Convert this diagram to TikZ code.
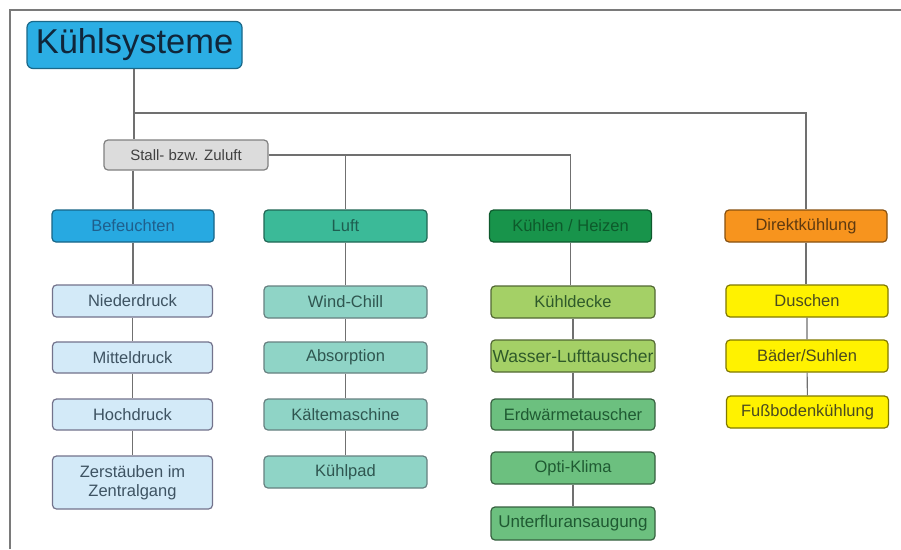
\documentclass[tikz,border=0pt]{standalone}
\usepackage{fontspec}
\setmainfont{Liberation Sans}
\definecolor{linec}{HTML}{707070}
\definecolor{framec}{HTML}{7A7A7A}
\definecolor{titlef}{HTML}{2BAEE4}
\definecolor{titlet}{HTML}{10263A}
\definecolor{stallf}{HTML}{DCDCDC}
\definecolor{beff}{HTML}{27A9E1}
\definecolor{beft}{HTML}{1F5F8C}
\definecolor{lblue}{HTML}{D3EAF8}
\definecolor{lbluet}{HTML}{3E5362}
\definecolor{luftf}{HTML}{3BBA98}
\definecolor{luftt}{HTML}{1E5E50}
\definecolor{tealf}{HTML}{8FD4C6}
\definecolor{tealt}{HTML}{2F5650}
\definecolor{khf}{HTML}{18944B}
\definecolor{kht}{HTML}{0D5A2B}
\definecolor{lgreen}{HTML}{A4D066}
\definecolor{lgreent}{HTML}{2F5A2A}
\definecolor{mgreen}{HTML}{6CC07F}
\definecolor{mgreent}{HTML}{1F5A32}
\definecolor{dirf}{HTML}{F7941E}
\definecolor{dirt}{HTML}{5E3A10}
\definecolor{yel}{HTML}{FFF200}
\definecolor{yelt}{HTML}{4A4A20}
\tikzset{
  box/.style={rectangle, rounded corners=4pt, draw=#1, line width=1.2pt, inner sep=1pt, align=center,
    font=\fontsize{16.5}{18.5}\selectfont, anchor=center},
  conn/.style={draw=linec, line width=1.1pt},
}
\begin{document}
\begin{tikzpicture}[x=1pt,y=-1pt]
\useasboundingbox (0,0) rectangle (901,549);
\fill[white] (0,0) rectangle (901,549);
% frame
\draw[framec, line width=1.3pt] (10,549) -- (10,10) -- (901,10);
% title
\node[box=titlef!60!black, fill=titlef, text=titlet, minimum width=215pt, minimum height=47pt, font=\fontsize{34.5}{38}\selectfont, rounded corners=6pt] (title) at (134.5,45) {Kühlsysteme};
\node[box=gray, fill=stallf, text=black!75, minimum width=164pt, minimum height=30pt, font=\fontsize{15}{17}\selectfont] (stall) at (186,155) {Stall- bzw. Zuluft};
% column 1
\node[box=beff!60!black, fill=beff, text=beft, minimum width=162pt, minimum height=32pt] (bef) at (133,226) {Befeuchten};
\node[box=gray!90!blue, fill=lblue, text=lbluet, minimum width=160pt, minimum height=32pt] (nied) at (132.5,301) {Niederdruck};
\node[box=gray!90!blue, fill=lblue, text=lbluet, minimum width=160pt, minimum height=31pt] (mitt) at (132.5,357.5) {Mitteldruck};
\node[box=gray!90!blue, fill=lblue, text=lbluet, minimum width=160pt, minimum height=31pt] (hoch) at (132.5,414.5) {Hochdruck};
\node[box=gray!90!blue, fill=lblue, text=lbluet, minimum width=160pt, minimum height=53pt] (zerst) at (132.5,482.5) {Zerstäuben im\\Zentralgang};
% column 2
\node[box=luftf!55!black, fill=luftf, text=luftt, minimum width=163pt, minimum height=32pt] (luft) at (345.5,226) {Luft};
\node[box=gray!80!teal, fill=tealf, text=tealt, minimum width=163pt, minimum height=32pt] (wind) at (345.5,302) {Wind-Chill};
\node[box=gray!80!teal, fill=tealf, text=tealt, minimum width=163pt, minimum height=31pt] (abs) at (345.5,357.5) {Absorption};
\node[box=gray!80!teal, fill=tealf, text=tealt, minimum width=163pt, minimum height=31pt] (kaelte) at (345.5,414.5) {Kältemaschine};
\node[box=gray!80!teal, fill=tealf, text=tealt, minimum width=163pt, minimum height=32pt] (pad) at (345.5,472) {Kühlpad};
% column 3
\node[box=khf!60!black, fill=khf, text=kht, minimum width=162pt, minimum height=32pt] (kh) at (570.5,226) {Kühlen / Heizen};
\node[box=lgreen!50!black, fill=lgreen, text=lgreent, minimum width=164pt, minimum height=32pt] (decke) at (573,302) {Kühldecke};
\node[box=lgreen!50!black, fill=lgreen, text=lgreent, minimum width=164pt, minimum height=32pt, font=\fontsize{17.5}{19}\selectfont] (wasser) at (573,356) {Wasser-Lufttauscher};
\node[box=mgreen!50!black, fill=mgreen, text=mgreent, minimum width=164pt, minimum height=31pt] (erd) at (573,414.5) {Erdwärmetauscher};
\node[box=mgreen!50!black, fill=mgreen, text=mgreent, minimum width=164pt, minimum height=32pt] (opti) at (573,468) {Opti-Klima};
\node[box=mgreen!50!black, fill=mgreen, text=mgreent, minimum width=164pt, minimum height=33pt, font=\fontsize{17}{19}\selectfont] (unter) at (573,523.5) {Unterfluransaugung};
% column 4
\node[box=dirf!55!black, fill=dirf, text=dirt, minimum width=162pt, minimum height=32pt] (dir) at (806,226) {Direktkühlung};
\node[box=yel!50!black, fill=yel, text=yelt, minimum width=162pt, minimum height=32pt] (dusch) at (807,301) {Duschen};
\node[box=yel!50!black, fill=yel, text=yelt, minimum width=162pt, minimum height=32pt] (baed) at (807,356) {Bäder/Suhlen};
\node[box=yel!50!black, fill=yel, text=yelt, minimum width=162pt, minimum height=32pt] (fuss) at (807.5,412) {Fußbodenkühlung};
% connectors
\coordinate (j1) at (134,113);
\draw[conn] (title.south -| j1) -- (stall.north -| j1);
\draw[conn] (j1) -| (dir.north);
\draw[conn] (stall.south -| bef) -- (bef.north);
\draw[conn] (stall.east) -| (kh.north);
\draw[conn] (stall.east -| luft) -- (luft.north);
\draw[conn] (bef.south) -- (nied.north -| bef.south);
\draw[conn] (nied) -- (mitt) -- (hoch) -- (zerst);
\draw[conn] (luft) -- (wind) -- (abs) -- (kaelte) -- (pad);
\draw[conn] (kh.south) -- (decke.north -| kh.south);
\draw[conn] (decke) -- (wasser) -- (erd) -- (opti) -- (unter);
\draw[conn] (dir.south) -- (dusch.north -| dir.south);
\draw[conn] (dusch) -- (baed) -- (fuss);
\end{tikzpicture}
\end{document}
